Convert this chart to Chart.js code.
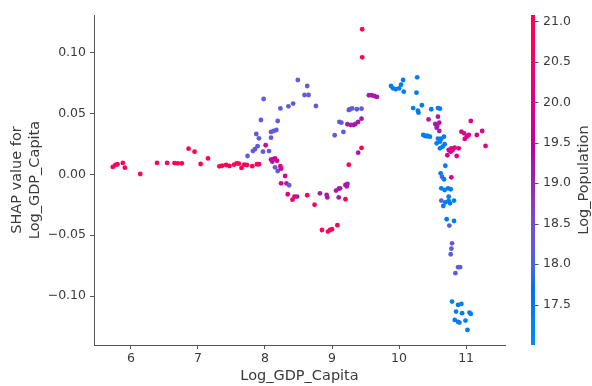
<!DOCTYPE html>
<html>
<head>
<meta charset="utf-8">
<script src="https://cdn.jsdelivr.net/npm/chart.js@4.4.1/dist/chart.umd.min.js"></script>
<style>
  html, body { margin: 0; padding: 0; background: #fff; }
  #wrap { width: 592px; height: 386px; }
</style>
</head>
<body>
<div id="wrap"><canvas id="shapChart" width="592" height="386"></canvas></div>
<script>
// Log_GDP_Capita (x), SHAP value (y), Log_Population (colour)
const gdpValues = [
  5.73, 5.77, 5.80, 5.88, 5.91, 6.14, 6.39, 6.54, 6.65, 6.70, 6.76, 6.86, 6.95, 7.04, 7.15, 7.32, 7.36, 7.42, 7.47, 7.54,
  7.58, 7.61, 7.65, 7.69, 7.73, 7.81, 7.88, 7.91,
  7.74, 7.82, 7.85, 7.89, 7.97, 8.06, 7.87, 7.91, 7.94, 7.98, 8.09, 8.09, 8.13, 8.17, 8.19, 8.23, 8.35, 8.42, 8.49, 8.63,
  8.59, 8.65, 8.76,
  8.01, 8.09, 8.12, 8.15, 8.18, 8.11, 8.15, 8.19, 8.23, 8.24, 8.30, 8.32, 8.36, 8.24, 8.34, 8.41, 8.44, 8.48, 8.63, 8.74,
  8.82, 8.92, 8.93, 9.06, 9.10, 9.12, 9.10, 9.20, 9.20, 9.22, 9.23, 9.25, 9.39, 8.85, 8.94, 8.97, 9.00, 9.08,
  9.45, 9.45, 9.55, 9.59, 9.63, 9.67, 9.25, 9.27, 9.30, 9.37, 9.44, 9.11, 9.14, 9.23, 9.28, 9.32, 9.35, 9.39, 9.44, 9.04,
  9.17, 9.44,
  9.88, 9.91, 9.95, 10.00, 10.03, 10.06, 10.07, 10.27, 10.26, 10.21, 10.28, 10.29, 10.34, 10.48, 10.58, 10.61, 10.44, 10.58,
  10.54, 10.57, 10.60, 10.56, 10.60, 10.36, 10.39, 10.41, 10.43, 10.46, 10.58, 10.63, 10.67, 10.56, 10.61, 10.68, 10.61, 10.65,
  11.07, 10.93, 10.97, 11.01, 11.04, 10.98, 11.16, 11.24, 11.29, 10.74, 10.78, 10.80, 10.83, 10.89, 10.77, 10.72, 10.86,
  10.69, 10.62, 10.64, 10.67, 10.78, 10.63, 10.68, 10.73, 10.74, 10.77, 10.63, 10.69, 10.74, 10.82, 10.66, 10.76, 10.71, 10.82,
  10.75, 10.79, 10.78, 10.77, 10.88, 10.91, 10.84,
  10.79, 10.88, 10.93, 10.85, 10.94, 11.05, 11.07, 10.83, 10.88, 10.99, 10.90, 11.02
];
const shapValues = [
  0.0060, 0.0076, 0.0082, 0.0093, 0.0054, 0.0002, 0.0093, 0.0093, 0.0092, 0.0090, 0.0090, 0.0210, 0.0185, 0.0084, 0.0130, 0.0065, 0.0070, 0.0076, 0.0068, 0.0079,
  0.0090, 0.0087, 0.0052, 0.0079, 0.0076, 0.0066, 0.0082, 0.0082,
  0.0150, 0.0190, 0.0205, 0.0230, 0.0185, 0.0190, 0.0330, 0.0295, 0.0445, 0.0617, 0.0300, 0.0347, 0.0355, 0.0363, 0.0437, 0.0540, 0.0557, 0.0580, 0.0773, 0.0724,
  0.0650, 0.0650, 0.0560,
  0.0238, 0.0120, 0.0123, 0.0130, 0.0110, 0.0103, 0.0057, 0.0027, 0.0066, 0.0046, -0.0014, -0.0074, -0.0090, -0.0074, -0.0164, -0.0208, -0.0183, -0.0183, -0.0172, -0.0250,
  -0.0156, -0.0170, -0.0190, -0.0134, -0.0118, -0.0115, -0.0190, -0.0205, -0.0088, -0.0100, -0.0080, 0.0078, 0.0177, -0.0457, -0.0470, -0.0457, -0.0450, -0.0418,
  0.1189, 0.0959, 0.0648, 0.0648, 0.0642, 0.0634, 0.0527, 0.0533, 0.0540, 0.0533, 0.0538, 0.0429, 0.0423, 0.0410, 0.0404, 0.0404, 0.0412, 0.0429, 0.0456, 0.0320,
  0.0347, 0.0216,
  0.0724, 0.0705, 0.0697, 0.0705, 0.0734, 0.0773, 0.0677, 0.0795, 0.0669, 0.0543, 0.0521, 0.0505, 0.0566, 0.0533, 0.0543, 0.0538, 0.0450, 0.0472,
  0.0412, 0.0396, 0.0423, 0.0382, 0.0355, 0.0322, 0.0314, 0.0314, 0.0314, 0.0308, 0.0292, 0.0292, 0.0308, 0.0254, 0.0267, 0.0246, 0.0213, 0.0226,
  0.0437, 0.0349, 0.0336, 0.0308, 0.0322, 0.0290, 0.0322, 0.0355, 0.0232, 0.0199, 0.0213, 0.0199, 0.0218, 0.0213, 0.0185, 0.0156, 0.0150,
  0.0070, 0.0008, -0.0020, -0.0041, -0.0025, -0.0115, -0.0129, -0.0115, -0.0184, -0.0123, -0.0216, -0.0230, -0.0219, -0.0216, -0.0260, -0.0238, -0.0369, -0.0383,
  -0.0421, -0.0566, -0.0610, -0.0656, -0.0762, -0.0762, -0.0811,
  -0.1044, -0.1071, -0.1063, -0.1126, -0.1139, -0.1134, -0.1145, -0.1194, -0.1211, -0.1200, -0.1216, -0.1276
];
const popValues = [
  20.9, 20.9, 20.9, 20.9, 20.9, 20.9, 20.9, 20.9, 20.9, 20.9, 20.9, 20.9, 20.9, 20.9, 20.9, 20.9, 20.9, 20.9, 20.9, 20.9,
  20.9, 20.9, 20.9, 20.9, 20.9, 20.9, 20.9, 20.9,
  18.2, 18.2, 18.2, 18.2, 18.2, 18.2, 18.2, 18.2, 18.2, 18.2, 18.2, 18.2, 18.2, 18.2, 18.2, 18.2, 18.2, 18.2, 18.2, 18.2,
  18.2, 18.2, 18.2,
  20.0, 20.0, 19.2, 20.0, 20.0, 19.2, 18.2, 18.2, 20.0, 20.0, 20.0, 19.2, 18.2, 20.0, 20.0, 20.9, 20.0, 19.2, 20.9, 20.9,
  19.2, 19.2, 19.2, 19.2, 19.2, 19.2, 19.2, 20.9, 19.2, 19.2, 19.2, 20.9, 19.2, 20.9, 20.9, 20.9, 20.9, 20.9,
  20.9, 20.9, 19.2, 19.2, 19.2, 19.2, 18.2, 18.2, 18.2, 18.2, 18.2, 18.2, 18.2, 19.2, 19.2, 19.2, 19.2, 19.2, 19.2, 18.2,
  18.2, 20.9,
  17.4, 17.4, 17.4, 17.4, 17.4, 17.4, 17.4, 17.4, 17.4, 17.4, 17.4, 17.4, 17.4, 17.4, 17.4, 17.4, 19.2, 19.2,
  19.2, 19.2, 19.2, 19.2, 19.2, 17.4, 17.4, 17.4, 17.4, 17.4, 17.4, 17.4, 17.4, 17.4, 17.4, 17.4, 17.4, 17.4,
  20.0, 20.0, 20.0, 20.0, 20.0, 20.0, 20.0, 20.0, 20.0, 20.0, 20.0, 20.0, 20.0, 20.0, 20.0, 20.0, 20.0,
  17.4, 17.4, 18.2, 17.4, 20.0, 17.4, 17.4, 17.4, 17.4, 17.4, 18.2, 17.4, 17.4, 17.4, 17.4, 17.4, 17.4, 17.4,
  18.2, 18.2, 18.2, 18.2, 18.2, 18.2, 18.2,
  17.4, 17.4, 17.4, 17.4, 17.4, 17.4, 17.4, 17.4, 17.4, 17.4, 17.4, 17.4
];

const xTicks = [6, 7, 8, 9, 10, 11];
const yTicks = [-0.10, -0.05, 0.00, 0.05, 0.10];
const popTicks = [17.5, 18.0, 18.5, 19.0, 19.5, 20.0, 20.5, 21.0];
const popMin = 17.0;
const popMax = 21.08;

const FONT = "'DejaVu Sans', sans-serif";
const TEXT = "#3a3a3a";
const SPINE = "#555";

// shap red_blue colormap: LCH interpolation blue -> purple -> red
function redBlue(t) {
  t = Math.min(1, Math.max(0, t));
  const L = t < 0.5 ? 54 + (40 - 54) * (t / 0.5) : 40 + (54 - 40) * ((t - 0.5) / 0.5);
  const C = 70 + 20 * t;
  const H = 4.6588 + t * (0.35470565 + 2 * Math.PI - 4.6588);
  const a = C * Math.cos(H), b = C * Math.sin(H);
  const fy = (L + 16) / 116, fx = fy + a / 500, fz = fy - b / 200;
  const finv = (v) => (v * v * v > 0.008856 ? v * v * v : (v - 16 / 116) / 7.787);
  const X = 0.95047 * finv(fx), Y = finv(fy), Z = 1.08883 * finv(fz);
  const lin = [
    3.2406 * X - 1.5372 * Y - 0.4986 * Z,
    -0.9689 * X + 1.8758 * Y + 0.0415 * Z,
    0.0557 * X - 0.2040 * Y + 1.0570 * Z,
  ];
  const rgb = lin.map((v) => {
    const s = v <= 0.0031308 ? 12.92 * v : 1.055 * Math.pow(v, 1 / 2.4) - 0.055;
    return Math.round(255 * Math.min(1, Math.max(0, s)));
  });
  return `rgb(${rgb[0]},${rgb[1]},${rgb[2]})`;
}

const points = gdpValues.map((x, i) => ({ x: x, y: shapValues[i] }));
const pointColors = popValues.map((c) => redBlue((c - popMin) / (popMax - popMin)));

// keep the plot box fixed: no extra label padding from any axis
function noPad(s) {
  s.paddingTop = 0;
  s.paddingBottom = 0;
  s.paddingLeft = 0;
  s.paddingRight = 0;
}

const colorbarPlugin = {
  id: "colorbar",
  afterDraw(chart) {
    const ctx = chart.ctx;
    const s = chart.scales.pop;
    const top = s.getPixelForValue(popMax);
    const bottom = s.getPixelForValue(popMin);
    const x0 = s.left + 26;
    const grad = ctx.createLinearGradient(0, bottom, 0, top);
    for (let i = 0; i <= 40; i++) grad.addColorStop(i / 40, redBlue(i / 40));
    ctx.save();
    ctx.fillStyle = grad;
    ctx.fillRect(x0, top, 4, bottom - top);

    ctx.strokeStyle = SPINE;
    ctx.lineWidth = 1;
    popTicks.forEach((v) => {
      const y = Math.round(s.getPixelForValue(v)) + 0.5;
      ctx.beginPath();
      ctx.moveTo(x0 + 4, y);
      ctx.lineTo(x0 + 7.5, y);
      ctx.stroke();
    });

    ctx.translate(584, (top + bottom) / 2);
    ctx.rotate(-Math.PI / 2);
    ctx.fillStyle = TEXT;
    ctx.font = `14.5px ${FONT}`;
    ctx.textAlign = "center";
    ctx.textBaseline = "middle";
    ctx.fillText("Log_Population", 0, 0);
    ctx.restore();
  },
};

const ctx = document.getElementById("shapChart").getContext("2d");
new Chart(ctx, {
  type: "scatter",
  data: {
    datasets: [{
      data: points,
      backgroundColor: pointColors,
      borderWidth: 0,
      pointRadius: 2.4,
      pointHoverRadius: 2.4,
    }],
  },
  options: {
    responsive: false,
    animation: false,
    layout: { padding: { top: 15, left: 0, right: 0, bottom: 0 } },
    plugins: { legend: { display: false }, tooltip: { enabled: false } },
    scales: {
      x: {
        type: "linear",
        position: "bottom",
        min: 5.45,
        max: 11.58,
        afterBuildTicks: (s) => { s.ticks = xTicks.map((v) => ({ value: v })); },
        afterFit: (s) => { s.height = 41; noPad(s); },
        grid: { drawOnChartArea: false, tickLength: 4, color: SPINE },
        border: { color: SPINE, width: 1 },
        ticks: { color: TEXT, font: { family: FONT, size: 12.5 }, padding: 2, maxRotation: 0 },
        title: {
          display: true, text: "Log_GDP_Capita", color: TEXT,
          font: { family: FONT, size: 14.5 }, padding: { top: 0, bottom: 1 },
        },
      },
      y: {
        type: "linear",
        position: "left",
        min: -0.14,
        max: 0.1306,
        afterBuildTicks: (s) => { s.ticks = yTicks.map((v) => ({ value: v })); },
        afterFit: (s) => { s.width = 94; noPad(s); },
        grid: { drawOnChartArea: false, tickLength: 4, color: SPINE },
        border: { color: SPINE, width: 1 },
        ticks: {
          color: TEXT, font: { family: FONT, size: 12.5 }, padding: 4,
          callback: (v) => (v < -1e-9 ? "\u2212" : "") + Math.abs(v).toFixed(2),
        },
        title: {
          display: true, text: ["SHAP value for", "Log_GDP_Capita"], color: TEXT,
          font: { family: FONT, size: 14.5, lineHeight: 1.25 }, padding: { top: 8, bottom: 0 },
        },
      },
      pop: {
        type: "linear",
        position: "right",
        min: popMin,
        max: popMax,
        afterBuildTicks: (s) => { s.ticks = popTicks.map((v) => ({ value: v })); },
        afterFit: (s) => { s.width = 87; noPad(s); },
        grid: { display: false, drawTicks: false },
        border: { display: false },
        ticks: {
          color: TEXT, font: { family: FONT, size: 12.5 }, padding: 38,
          callback: (v) => v.toFixed(1),
        },
      },
    },
  },
  plugins: [colorbarPlugin],
});
</script>
</body>
</html>
